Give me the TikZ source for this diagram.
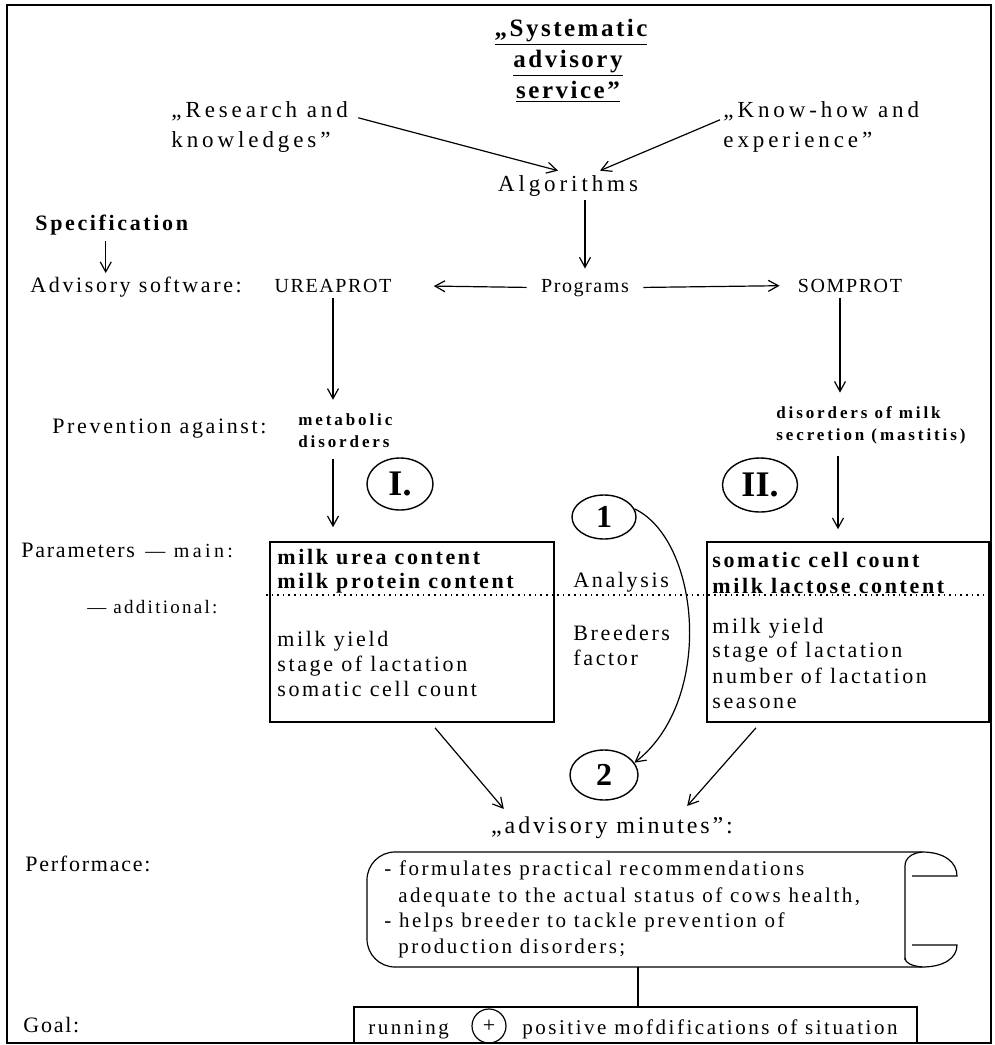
\documentclass[tikz,border=0pt]{standalone}
\usepackage{fontspec}
\setmainfont{Liberation Serif}
\newfontfamily\wideA{Liberation Serif}[LetterSpace=12]
\newfontfamily\wideB{Liberation Serif}[LetterSpace=17]
\newfontfamily\wideC{Liberation Serif}[LetterSpace=8]
\newfontfamily\wideT{Liberation Serif}[LetterSpace=10]
\usetikzlibrary{arrows.meta,calc,shapes.geometric}
\tikzset{
  txt/.style={inner sep=0pt, anchor=base west, font=\wideA\fontsize{11}{13}\selectfont},
  txtup/.style={inner sep=0pt, anchor=base west, font=\wideB\fontsize{11.5}{13}\selectfont},
  txtsm/.style={inner sep=0pt, anchor=base, font=\wideC\fontsize{10}{12}\selectfont},
  txtbsm/.style={inner sep=0pt, anchor=base west, font=\wideB\bfseries\fontsize{8.5}{10}\selectfont},
  txtscroll/.style={inner sep=0pt, anchor=base west, font=\wideA\fontsize{10.5}{12}\selectfont},
  titletxt/.style={inner sep=0pt, anchor=base, font=\wideT\bfseries\fontsize{12.5}{15}\selectfont},
  bx/.style={draw, line width=0.8pt, inner sep=0pt},
  oval/.style={draw, ellipse, line width=0.7pt, inner sep=0pt, font=\bfseries\fontsize{18}{18}\selectfont},
  arr/.style={-{Straight Barb[length=5pt,width=5.5pt]}, line width=0.6pt},
  ln/.style={line width=0.6pt}
}
\begin{document}
\begin{tikzpicture}[x=0.5pt,y=-0.5pt]
\useasboundingbox (0,0) rectangle (995,1045);
\draw[line width=0.9pt] (7,5) rectangle (991,1043);

% title
\node[titletxt] (t1) at (571,36) {\underline{„Systematic}};
\node[titletxt] (t2) at (568,67) {\underline{advisory}};
\node[titletxt] (t3) at (568,98) {\underline{service”}};

% sources
\node[txtup] (res1) at (171,117) {„Research and};
\node[txtup] (res2) at (171,147) {knowledges”};
\node[txtup] (kh1) at (723,117) {„Know-how and};
\node[txtup] (kh2) at (723,147) {experience”};
\node[txtup, anchor=base] (alg) at (568,191) {Algorithms};
\draw[arr] ($(res1.east)+(10,7)$) -- ($(alg.north)+(-10,-4)$);
\draw[arr] ($(kh1.west)+(-3,9)$) -- ($(alg.north)+(32,-4)$);

% specification
\node[txt, font=\wideA\bfseries\fontsize{11}{13}\selectfont] (spec) at (35,230) {Specification};
\node[txt] (adv) at (30,292) {Advisory software:};
\draw[arr] ($(spec.south)+(-6,6)$) -- ($(spec.south)+(-6,38)$);

\node[txtsm] (urea) at (333,292) {UREAPROT};
\node[txtsm] (prog) at (585,292) {Programs};
\node[txtsm] (som) at (850,292) {SOMPROT};
\draw[arr, shorten <=2pt, shorten >=5pt] (prog.north |- alg.south) -- (prog.north);
\draw[arr, shorten <=7pt, shorten >=21pt] (prog.west) -- (urea.east);
\draw[arr, shorten <=7pt, shorten >=9pt] (prog.east) -- (som.west);

% prevention
\node[txt] (prev) at (52,433) {Prevention against:};
\node[txtbsm] (met1) at (298,425) {metabolic};
\node[txtbsm] (met2) at (298,447) {disorders};
\node[txtbsm] (dis1) at (776,418) {disorders of milk};
\node[txtbsm] (dis2) at (776,440) {secretion (mastitis)};
\draw[arr, shorten <=2.5pt, shorten >=6.5pt] (urea.south) -- (urea.south |- met1.north);
\draw[arr, shorten <=2.5pt, shorten >=6.5pt] ($(som.south)+(-10,0)$) -- ($(som.south |- dis1.north)+(-10,0)$);

% ovals
\node[oval, minimum width=33pt, minimum height=26pt] (o1) at (400,484) {I.};
\node[oval, minimum width=37.5pt, minimum height=27pt] (o2) at (760,485) {II.};
\node[oval, minimum width=32pt, minimum height=22pt, font=\bfseries\fontsize{16}{16}\selectfont] (n1) at (604,517) {1};
\node[oval, minimum width=34pt, minimum height=25pt, font=\bfseries\fontsize{16}{16}\selectfont] (n2) at (604,775) {2};

% parameter boxes
\node[bx, minimum width=142pt, minimum height=90pt] (lb) at (412,632) {};
\node[bx, minimum width=141pt, minimum height=90pt] (rb) at (848,632) {};
\draw[arr, shorten <=5.5pt, shorten >=7pt] (urea.south |- met2.south) -- (urea.south |- lb.north);
\draw[arr, shorten <=6pt, shorten >=6pt] ($(som.south |- dis2.south)+(-12,0)$) -- ($(som.south |- rb.north)+(-12,0)$);

\coordinate (dotl) at (266,595);
\coordinate (dotr) at (990,595);
\draw[dotted, line width=0.8pt] (dotl) -- (dotr);

\node[txt, font=\wideC\fontsize{11}{13}\selectfont] (par) at (21,557) {Parameters};
\node[txt, font=\wideB\fontsize{10}{12}\selectfont] (pmain) at (145,557) {— main:};
\node[txt, font=\wideA\fontsize{9.5}{11}\selectfont] (padd) at (87,613) {— additional:};

\node[txt, font=\wideA\bfseries\fontsize{11}{13}\selectfont] (la1) at (277,564) {milk urea content};
\node[txt, font=\wideA\bfseries\fontsize{11}{13}\selectfont] (la2) at (277,588) {milk protein content};
\node[txt] (la3) at (277,646) {milk yield};
\node[txt] (la4) at (277,671) {stage of lactation};
\node[txt] (la5) at (277,696) {somatic cell count};

\node[txt] (ana) at (573,587) {Analysis};
\node[txt] (bre1) at (573,640) {Breeders};
\node[txt] (bre2) at (573,665) {factor};

\node[txt, font=\wideA\bfseries\fontsize{11}{13}\selectfont] (ra1) at (712,567) {somatic cell count};
\node[txt, font=\wideA\bfseries\fontsize{11}{13}\selectfont] (ra2) at (712,593) {milk lactose content};
\node[txt] (ra3) at (712,633) {milk yield};
\node[txt] (ra4) at (712,657) {stage of lactation};
\node[txt] (ra5) at (712,683) {number of lactation};
\node[txt] (ra6) at (712,708) {seasone};

% curve 1 -> 2
\draw[arr] (n1.15) .. controls (700,540) and (715,700) .. (n2.22);

% advisory minutes
\node[txtup, anchor=base, font=\wideA\fontsize{12}{14}\selectfont] (advm) at (612,833) {„advisory minutes”:};
\draw[arr] ($(lb.south)+(23,5)$) -- ($(advm.north west)+(13,-7)$);
\draw[arr] ($(rb.south)+(-92,5)$) -- ($(advm.north east)+(-46,-10)$);

\node[txt, font=\wideC\fontsize{11}{13}\selectfont] (perf) at (25,871) {Performace:};
\node[txt, font=\wideC\fontsize{11}{13}\selectfont] (goal) at (23,1032) {Goal:};

% scroll
\draw[ln, rounded corners=14pt] (922,852) -- (367,852) -- (367,967) -- (922,967);
\draw[ln] (905,960) -- (905,866) .. controls (905,858) and (912,853) .. (922,852);
\draw[ln] (922,852) .. controls (944,852) and (957,862) .. (957,876) -- (912,876);
\draw[ln] (912,945) -- (957,945) .. controls (957,958) and (944,967) .. (922,967);
\draw[ln] (905,958) .. controls (905,963) and (912,966) .. (922,967);

\node[txtscroll] (s1) at (384,875) {- formulates practical recommendations};
\node[txtscroll] (s2) at (398,902) {adequate to the actual status of cows health,};
\node[txtscroll] (s3) at (384,927) {- helps breeder to tackle prevention of};
\node[txtscroll] (s4) at (398,953) {production disorders;};

% goal box
\coordinate (scrollbot) at (638,967);
\node[bx, minimum width=281.5pt, minimum height=18pt] (gb) at (635.5,1025) {};
\draw[ln] (scrollbot) -- (scrollbot |- gb.north);
\node[txtscroll] (run) at (368,1034) {running};
\node[draw, circle, line width=0.6pt, minimum size=17pt, inner sep=0pt, font=\fontsize{11}{11}\selectfont] (plus) at (489,1026) {+};
\node[txtscroll] (pos) at (522,1034) {positive mofdifications of situation};
\end{tikzpicture}
\end{document}
